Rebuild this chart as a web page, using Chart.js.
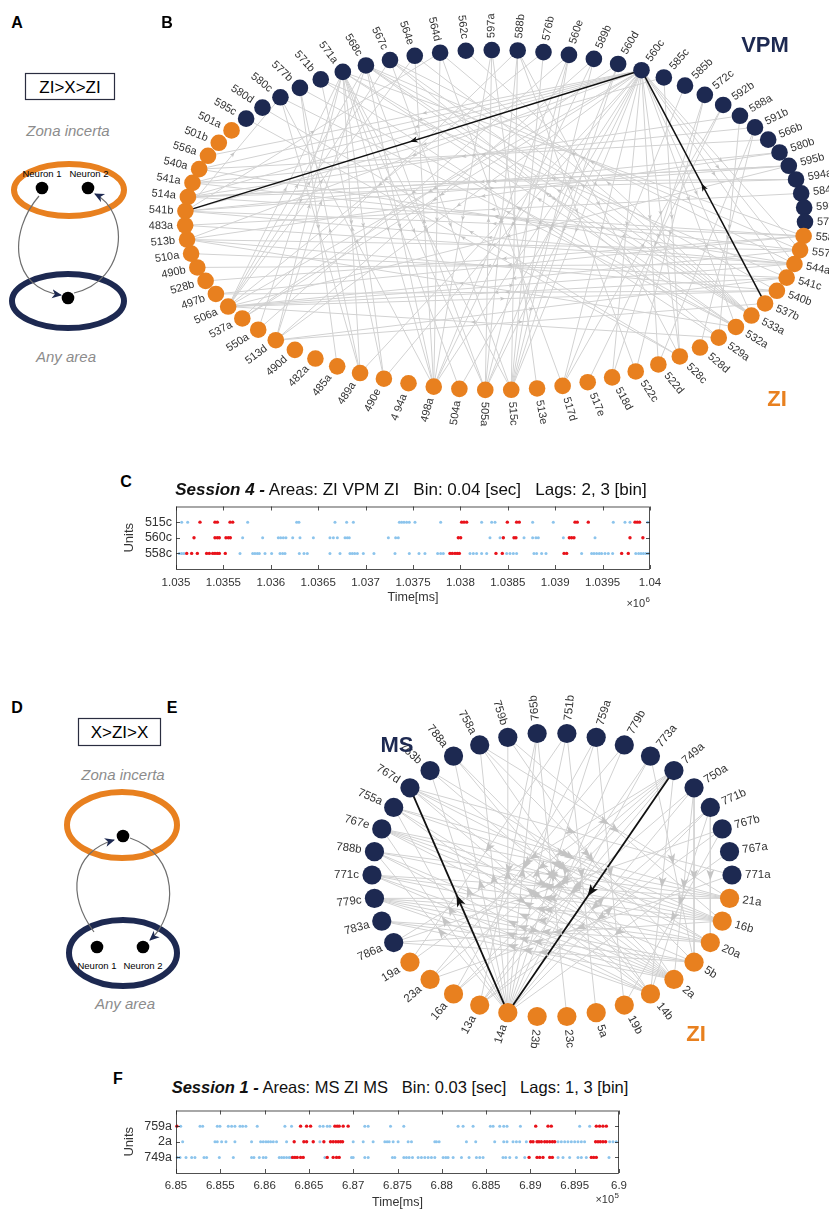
<!DOCTYPE html>
<html lang="en">
<head>
<meta charset="utf-8">
<title>ZI triplet motifs</title>
<script src="https://cdn.jsdelivr.net/npm/chart.js@4.4.1/dist/chart.umd.min.js"></script>
<style>
  html, body { margin: 0; padding: 0; background: #fff; }
  body { position: relative; width: 829px; height: 1212px; overflow: hidden;
         font-family: 'Liberation Sans', Arial, sans-serif; color: #000; }
  canvas, svg, .lbl { position: absolute; }
  .lbl { transform: translate(-50%, -50%); white-space: nowrap; line-height: 1; }
  .panel { font-size: 16px; font-weight: bold; }
  .area { font-size: 22px; font-weight: bold; }
  .title { font-size: 17px; color: #111; white-space: pre; }
</style>
</head>
<body>

<!-- A: ZI > X > ZI schematic -->
<svg width="140" height="380" style="left:0;top:0" font-family="'Liberation Sans', Arial, sans-serif">
  <defs>
    <marker id="headA" markerWidth="12" markerHeight="12" refX="9" refY="5" orient="auto" markerUnits="userSpaceOnUse">
      <path d="M0,0.5 L10,5 L0,9.5 L2.8,5 Z" fill="#1d2951"/>
    </marker>
  </defs>
  <rect x="25.5" y="73.5" width="89" height="26" fill="none" stroke="#2a2d40" stroke-width="1.2"/>
  <text x="70" y="93" font-size="17" text-anchor="middle">ZI&gt;X&gt;ZI</text>
  <text x="68" y="136" font-size="15" font-style="italic" fill="#8c8c8c" text-anchor="middle">Zona incerta</text>
  <ellipse cx="69" cy="190" rx="55" ry="26" fill="none" stroke="#e8801f" stroke-width="6"/>
  <text x="42" y="177" font-size="9.5" text-anchor="middle">Neuron 1</text>
  <text x="89" y="177" font-size="9.5" text-anchor="middle">Neuron 2</text>
  <circle cx="42" cy="188" r="6.3"/>
  <circle cx="88" cy="188" r="6.3"/>
  <ellipse cx="68" cy="301" rx="56" ry="27" fill="none" stroke="#1d2951" stroke-width="6"/>
  <circle cx="68" cy="298" r="6.3"/>
  <path d="M39,196 C8,232 10,288 61,295" fill="none" stroke="#6e6e6e" stroke-width="1.2" marker-end="url(#headA)"/>
  <path d="M74,293 C128,280 130,212 95,194" fill="none" stroke="#6e6e6e" stroke-width="1.2" marker-end="url(#headA)"/>
  <text x="66" y="362" font-size="15" font-style="italic" fill="#8c8c8c" text-anchor="middle">Any area</text>
</svg>

<!-- D: X > ZI > X schematic -->
<svg width="200" height="330" style="left:0;top:690px" font-family="'Liberation Sans', Arial, sans-serif">
  <defs>
    <marker id="headD" markerWidth="12" markerHeight="12" refX="9" refY="5" orient="auto" markerUnits="userSpaceOnUse">
      <path d="M0,0.5 L10,5 L0,9.5 L2.8,5 Z" fill="#1d2951"/>
    </marker>
  </defs>
  <g transform="translate(0,-690)">
    <rect x="78.5" y="718.5" width="82" height="27" fill="none" stroke="#2a2d40" stroke-width="1.2"/>
    <text x="119.5" y="738" font-size="17" text-anchor="middle">X&gt;ZI&gt;X</text>
    <text x="123" y="780" font-size="15" font-style="italic" fill="#8c8c8c" text-anchor="middle">Zona incerta</text>
    <ellipse cx="122" cy="825" rx="55" ry="33" fill="none" stroke="#e8801f" stroke-width="6"/>
    <circle cx="123" cy="836" r="6.3"/>
    <ellipse cx="123" cy="953" rx="54" ry="33" fill="none" stroke="#1d2951" stroke-width="6"/>
    <circle cx="97" cy="947" r="6.3"/>
    <circle cx="143" cy="947" r="6.3"/>
    <text x="97" y="969" font-size="9.5" text-anchor="middle">Neuron 1</text>
    <text x="143" y="969" font-size="9.5" text-anchor="middle">Neuron 2</text>
    <path d="M94,932 C66,895 72,852 114,840" fill="none" stroke="#6e6e6e" stroke-width="1.2" marker-end="url(#headD)"/>
    <path d="M130,838 C180,855 178,915 150,940" fill="none" stroke="#6e6e6e" stroke-width="1.2" marker-end="url(#headD)"/>
    <text x="125" y="1009" font-size="15" font-style="italic" fill="#8c8c8c" text-anchor="middle">Any area</text>
  </g>
</svg>

<canvas id="graphB" width="689" height="470" style="left:140px;top:0"></canvas>
<canvas id="graphE" width="529" height="380" style="left:300px;top:690px"></canvas>
<canvas id="rasterC" width="574" height="122" style="left:96px;top:495px"></canvas>
<canvas id="rasterF" width="574" height="113" style="left:96px;top:1099px"></canvas>

<div class="lbl panel" style="left:17px;top:23px">A</div>
<div class="lbl panel" style="left:167px;top:23px">B</div>
<div class="lbl panel" style="left:126px;top:482px">C</div>
<div class="lbl panel" style="left:17px;top:708px">D</div>
<div class="lbl panel" style="left:172px;top:708px">E</div>
<div class="lbl panel" style="left:118px;top:1079px">F</div>

<div class="lbl area" style="left:765px;top:45px;color:#1d2951">VPM</div>
<div class="lbl area" style="left:777px;top:399px;color:#e8801f">ZI</div>
<div class="lbl area" style="left:397px;top:745px;color:#1d2951">MS</div>
<div class="lbl area" style="left:696px;top:1034px;color:#e8801f">ZI</div>

<div class="lbl title" style="left:411px;top:489px"><b><i>Session 4 -</i></b> Areas: ZI VPM ZI   Bin: 0.04 [sec]   Lags: 2, 3 [bin]</div>
<div class="lbl title" style="left:400px;top:1087px;font-size:16.5px"><b><i>Session 1 -</i></b> Areas: MS ZI MS   Bin: 0.03 [sec]   Lags: 1, 3 [bin]</div>

<script>
// ---------- colours ----------
const NAVY = '#1d2951';
const ORANGE = '#e8801f';
const EDGE_GRAY = '#d2d2d2';
const HEAD_GRAY = '#c4c4c4';
const SPIKE_BLUE = '#8cc4ec';
const SPIKE_RED = '#e8121a';

// ---------- B: session 4 units, in ring order (clockwise from 541b) ----------
const ringB = ['541b','514a','541a','540a','556a','501b','501a','595c','580d','580c','577b','571b',
  '571a','568c','567c','564e','564d','562c','597a','588b','576b','560e','589b','560d','560c','585c',
  '585b','572c','592b','588a','591b','566b','580b','595b','594a','584b','598a','575a','558c','557a',
  '544a','541c','540b','537b','533a','532a','529a','528d','528c','522d','522c','518d','517e','517d',
  '513e','515c','505a','504a','498a','4 94a','490e','489a','485a','482a','490d','513d','550a','537a',
  '506a','497b','528b','490b','510a','513b','483a'];
const vpmB = ['595c','580d','580c','577b','571b','571a','568c','567c','564e','564d','562c','597a',
  '588b','576b','560e','589b','560d','560c','585c','585b','572c','592b','588a','591b','566b','580b',
  '595b','594a','584b','598a','575a'];
// significant links (source -> target)
const edgesB = [
  ['560c','514a'],['560c','541a'],['560c','540a'],['560c','556a'],['560c','513b'],['560c','506a'],
  ['560c','537a'],['560c','513d'],['560c','489a'],['560c','498a'],['560c','505a'],['560c','515c'],
  ['560c','504a'],['560c','490e'],['560c','533a'],['560c','532a'],['560c','544a'],['560c','557a'],
  ['560c','541c'],['560c','528c'],['560c','522d'],['560c','517d'],['560c','518d'],
  ['571a','498a'],['571a','505a'],['571a','515c'],['571a','504a'],['571a','550a'],['571a','490e'],
  ['571a','489a'],['568c','498a'],['568c','505a'],['568c','532a'],['568c','540b'],
  ['567c','515c'],['567c','529a'],['564d','498a'],['564d','517d'],['564d','533a'],
  ['580c','489a'],['580c','498a'],['577b','485a'],
  ['588b','505a'],['588b','515c'],['588b','522c'],['588b','528c'],['588b','537a'],
  ['597a','498a'],['597a','513e'],['576b','515c'],['576b','506a'],['560e','505a'],['560e','550a'],
  ['589b','513d'],['560d','537a'],['560d','515c'],['585c','528c'],['585c','541b'],
  ['572c','518d'],['572c','522c'],['592b','517e'],['588a','529a'],['588a','514a'],
  ['591b','528d'],['591b','541a'],['566b','540a'],['580b','513b'],['580b','541b'],
  ['595b','514a'],['595b','506a'],['594a','541a'],['584b','483a'],
  ['558c','541b'],['558c','514a'],['558c','497b'],['558c','528b'],['558c','571a'],
  ['557a','541a'],['557a','506a'],['557a','513b'],['557a','568c'],
  ['544a','540a'],['544a','541b'],['544a','490b'],['544a','567c'],
  ['541c','510a'],['541c','506a'],['541c','571b'],['540b','513b'],['540b','497b'],
  ['533a','571a'],['533a','568c'],['533a','567c'],['533a','564e'],['533a','562c'],
  ['532a','571a'],['532a','577b'],['532a','580c'],['532a','513b'],
  ['529a','571b'],['529a','506a'],['528c','580d'],['528c','595c'],
  ['506a','571a'],['506a','568c'],['506a','567c'],['506a','564e'],['506a','540b'],['506a','544a'],
  ['513d','568c'],['513d','571a'],['513d','541c'],['513d','537b'],
  ['541b','564d'],['541b','580c'],['541b','595b'],['514a','595b'],['514a','594a'],
  ['483a','544a'],['498a','564e'],['498a','560e'],['498a','589b'],['505a','560d'],['505a','597a'],
  ['515c','589b'],['515c','560e'],['489a','577b'],['490e','571b'],['517d','585b'],['517d','592b'],
  ['522d','591b']
];
const pathB = [['537b','560c'], ['560c','541b']];

// ---------- E: session 1 units, in ring order (clockwise from 771a) ----------
const ringE = ['771a','21a','16b','20a','5b','2a','14b','19b','5a','23c','23b','14a','13a','16a',
  '23a','19a','786a','783a','779c','771c','788b','767e','755a','767d','763b','788a','758a','759b',
  '765b','751b','759a','779b','773a','749a','750a','771b','767b','767a'];
const msE = ['771a','786a','783a','779c','771c','788b','767e','755a','767d','763b','788a','758a',
  '759b','765b','751b','759a','779b','773a','749a','750a','771b','767b','767a'];
const edgesE = [
  ['14a','763b'],['14a','788a'],['14a','758a'],['14a','759b'],['14a','765b'],['14a','751b'],
  ['14a','759a'],['14a','779b'],['14a','773a'],['14a','750a'],['14a','755a'],['14a','767e'],
  ['14a','788b'],['14a','771b'],
  ['2a','788b'],['2a','771c'],['2a','779c'],['2a','767e'],['2a','755a'],['2a','783a'],['2a','763b'],
  ['14b','771c'],['14b','779c'],['14b','788b'],['14b','767d'],['14b','758a'],
  ['16b','779c'],['16b','771c'],['16b','788b'],['16b','767e'],['16b','755a'],['16b','786a'],
  ['20a','783a'],['20a','779c'],['20a','771c'],['21a','779c'],['21a','767e'],['21a','788b'],
  ['5b','786a'],['5b','783a'],
  ['767d','2a'],['767d','16b'],['767d','771a'],['767d','20a'],['755a','21a'],['755a','14b'],
  ['767e','20a'],['767e','5b'],['771c','21a'],['779c','5b'],
  ['749a','13a'],['749a','16a'],['749a','23a'],['749a','19a'],['749a','786a'],['749a','14b'],
  ['750a','2a'],['750a','5b'],['750a','16a'],['771b','14b'],['771b','20a'],['771b','13a'],
  ['773a','5b'],['773a','13a'],['779b','23a'],['759a','16a'],['759a','19b'],['751b','19a'],
  ['751b','5a'],['765b','13a'],['765b','23c'],['759b','2a'],['759b','16b'],['758a','5b'],
  ['758a','21a'],['788a','2a'],['788a','14b'],['763b','20a'],['767b','13a'],['767b','19b'],
  ['767a','14a'],['771a','23a'],['767b','786a']
];
const pathE = [['749a','14a'], ['14a','767d']];

// ---------- C: session 4 spike times [ms] ----------
const unitsC = ['515c', '560c', '558c'];
const c515cOther = [1035060, 1035123, 1035756, 1036273, 1036297, 1036677, 1036800, 1036871, 1037356,
  1037380, 1037405, 1037433, 1037461, 1037521, 1037792, 1038224, 1038330, 1038365, 1038762, 1038980,
  1039613, 1039736, 1039789, 1039975];
const c515cPattern = [1035253, 1035411, 1035436, 1035570, 1035598, 1038013, 1038038, 1038066, 1038495,
  1038593, 1038621, 1039209, 1039233, 1039349, 1039842, 1039866, 1039890];
const c560cOther = [1035703, 1035914, 1036079, 1036104, 1036132, 1036160, 1036231, 1036308, 1036449,
  1036624, 1036660, 1036702, 1036783, 1036807, 1036828, 1037240, 1037317, 1037345, 1038312, 1038418,
  1038671, 1038762, 1038797, 1038822, 1039086, 1039420];
const c560cPattern = [1035190, 1035411, 1035436, 1035457, 1035527, 1035552, 1035573, 1037978, 1038003,
  1038453, 1038565, 1038586, 1039149, 1039173, 1039198, 1039789, 1039925];
const c558cOther = [1035035, 1035060, 1035084, 1035675, 1035809, 1035833, 1035858, 1035879, 1035939,
  1036009, 1036097, 1036125, 1036150, 1036301, 1036350, 1036385, 1036624, 1036730, 1036835, 1036860,
  1036885, 1036913, 1036976, 1037088, 1037310, 1037461, 1037563, 1037626, 1037760, 1037792, 1037820,
  1038101, 1038136, 1038171, 1038224, 1038277, 1038488, 1038523, 1038558, 1038593, 1038776, 1038804,
  1038857, 1038903, 1039279, 1039384, 1039409, 1039437, 1039465, 1039490, 1039525, 1039560, 1039606,
  1039850, 1039880, 1039905, 1039930, 1039955, 1039980];
const c558cPattern = [1035113, 1035165, 1035225, 1035323, 1035352, 1035387, 1035411, 1035436, 1035457,
  1035520, 1037890, 1037915, 1037943, 1037967, 1037989, 1038375, 1038442, 1039093, 1039121, 1039701,
  1039771];

// ---------- F: session 1 spike times [ms] ----------
const unitsF = ['759a', '2a', '749a'];
const f759aOther = [685053, 685271, 685301, 685466, 685496, 685590, 685628, 685665, 685722, 685752,
  685789, 685917, 686229, 686304, 686624, 686661, 686707, 686737, 687131, 687169, 687421, 687571,
  688184, 688240, 688353, 688548, 688579, 688654, 688699, 688736, 688887, 689556, 689669];
const f759aPattern = [685010, 686406, 686474, 686519, 686793, 686819, 686842, 686887, 686943, 689060,
  689199, 689236, 689744, 689781, 689819, 689857];
const f2aOther = [685075, 685440, 685466, 685515, 685564, 685665, 685853, 685955, 685985, 686015,
  686041, 686068, 686098, 686135, 686248, 686624, 687000, 687113, 687225, 687357, 687383, 687406,
  687451, 687507, 687620, 687658, 687921, 687940, 687970, 688278, 688383, 688597, 688699, 688736,
  688804, 688842, 688879, 688954, 689312, 689349, 689387, 689424, 689462, 689500, 689537, 689575,
  689612, 689894, 689932, 689969];
const f2aPattern = [686334, 686443, 686474, 686549, 686669, 686744, 686774, 686804, 686831, 686857,
  686880, 689003, 689030, 689075, 689097, 689124, 689161, 689188, 689218, 689248, 689274, 689736,
  689763, 689789, 689819, 689849];
const f749aOther = [685015, 685045, 685113, 685177, 685214, 685316, 685346, 685489, 685647, 685853,
  685880, 685940, 685985, 686015, 686165, 686192, 686218, 686248, 686278, 686301, 686680, 686981,
  687000, 687131, 687169, 687443, 687470, 687571, 687601, 687631, 687669, 687733, 687770, 687808,
  687846, 687883, 687921, 688015, 688045, 688071, 688128, 688222, 688308, 688391, 688428, 688466,
  688691, 688721, 688767, 688842, 688936, 689312, 689368, 689443, 689537, 689575, 689631, 689887];
const f749aPattern = [686316, 686342, 686368, 686406, 686436, 686707, 686774, 686812, 686842, 688985,
  689075, 689105, 689142, 689218, 689248, 689687, 689714, 689744];

Chart.defaults.font.family = "'Liberation Sans', Arial, sans-serif";
Chart.defaults.animation = false;

// --- circular graph ---

function drawHead(ctx, a, b, color, len, wid) {
  const ang = Math.atan2(b.y - a.y, b.x - a.x);
  ctx.save();
  ctx.translate((a.x + b.x) / 2, (a.y + b.y) / 2);
  ctx.rotate(ang);
  ctx.beginPath();
  ctx.moveTo(len / 2, 0);
  ctx.lineTo(-len / 2, -wid / 2);
  ctx.lineTo(-len / 4, 0);
  ctx.lineTo(-len / 2, wid / 2);
  ctx.closePath();
  ctx.fillStyle = color;
  ctx.fill();
  ctx.restore();
}

function ringGraph(id, ring, group, edges, path, look) {
  const n = ring.length;
  const node = {};
  ring.forEach((name, i) => {
    const t = (look.start + i * 360 / n) * Math.PI / 180;
    node[name] = { x: Math.cos(t), y: Math.sin(t), t };
  });

  const link = (pair, color, width, order) => ({
    data: [node[pair[0]], node[pair[1]]],
    showLine: true, borderColor: color, borderWidth: width,
    pointRadius: 0, order, clip: false
  });

  // arrowheads half-way along each link, then the unit names set radially
  const decor = {
    id: 'ringDecor',
    afterDatasetsDraw(chart) {
      const { ctx } = chart;
      const sx = chart.scales.x, sy = chart.scales.y;
      const px = nm => ({ x: sx.getPixelForValue(node[nm].x), y: sy.getPixelForValue(node[nm].y) });
      edges.forEach(([s, d]) => drawHead(ctx, px(s), px(d), HEAD_GRAY, look.head, look.headW));
      path.forEach(([s, d]) => drawHead(ctx, px(s), px(d), '#111', look.pathHead, look.pathHeadW));

      ctx.save();
      ctx.font = look.font;
      ctx.fillStyle = '#333';
      ctx.textBaseline = 'middle';
      ring.forEach(nm => {
        const p = px(nm), t = node[nm].t;
        const la = Math.atan2(look.k * Math.sin(t), Math.cos(t));
        ctx.save();
        ctx.translate(p.x, p.y);
        if (Math.cos(t) > look.flip) {
          ctx.rotate(la);
          ctx.textAlign = 'left';
          ctx.fillText(nm, look.gap, 0);
        } else {
          ctx.rotate(la + Math.PI);
          ctx.textAlign = 'right';
          ctx.fillText(nm, -look.gap, 0);
        }
        ctx.restore();
      });
      ctx.restore();
    }
  };

  return new Chart(document.getElementById(id), {
    type: 'scatter',
    data: {
      datasets: [
        { data: ring.map(nm => node[nm]), pointRadius: look.r, pointHoverRadius: look.r,
          backgroundColor: ring.map(nm => group.includes(nm) ? NAVY : ORANGE),
          borderWidth: 0, order: 0, clip: false },
        ...path.map(p => link(p, '#111', look.pathWidth, 1)),
        ...edges.map(p => link(p, EDGE_GRAY, 1, 2))
      ]
    },
    options: {
      responsive: false,
      layout: { padding: look.pad },
      scales: {
        x: { type: 'linear', min: -1, max: 1, display: false },
        y: { type: 'linear', min: -1, max: 1, reverse: true, display: false }
      },
      plugins: { legend: { display: false }, tooltip: { enabled: false } }
    },
    plugins: [decor]
  });
}

ringGraph('graphB', ringB, vpmB, edgesB, pathB, {
  start: 183, r: 8.3, gap: 12, k: 0.75, flip: -0.05,
  font: '11px "Liberation Sans", Arial, sans-serif',
  head: 5, headW: 4, pathHead: 8, pathHeadW: 6, pathWidth: 1.5,
  pad: { left: 45, right: 24, top: 50, bottom: 80 }
});

ringGraph('graphE', ringE, msE, edgesE, pathE, {
  start: 0, r: 9.6, gap: 13, k: 0.8, flip: -0.2,
  font: '11.5px "Liberation Sans", Arial, sans-serif',
  head: 11, headW: 8, pathHead: 12, pathHeadW: 9, pathWidth: 1.8,
  pad: { left: 72, right: 97, top: 43, bottom: 53 }
});

// --- spike rasters ---

// MATLAB-like box with inward ticks and the x10^n multiplier
const boxTicks = {
  id: 'boxTicks',
  afterDraw(chart, args, opts) {
    const { ctx, chartArea: a } = chart;
    const sx = chart.scales.x, sy = chart.scales.y;
    ctx.save();
    ctx.strokeStyle = '#262626';
    ctx.lineWidth = 0.8;
    ctx.strokeRect(a.left + 0.5, a.top + 0.5, a.right - a.left - 1, a.bottom - a.top);
    ctx.beginPath();
    sx.ticks.forEach(t => {
      const p = Math.round(sx.getPixelForValue(t.value)) + 0.5;
      ctx.moveTo(p, a.bottom); ctx.lineTo(p, a.bottom - 4);
      ctx.moveTo(p, a.top); ctx.lineTo(p, a.top + 4);
    });
    sy.ticks.forEach(t => {
      const p = Math.round(sy.getPixelForValue(t.value)) + 0.5;
      ctx.moveTo(a.left, p); ctx.lineTo(a.left + 4, p);
      ctx.moveTo(a.right, p); ctx.lineTo(a.right - 4, p);
    });
    ctx.stroke();

    ctx.fillStyle = '#333';
    ctx.textBaseline = 'alphabetic';
    ctx.textAlign = 'right';
    ctx.font = '8px "Liberation Sans", Arial, sans-serif';
    ctx.fillText(String(opts.exponent), a.right, a.bottom + opts.expoY - 5);
    const w = ctx.measureText(String(opts.exponent)).width;
    ctx.font = '11px "Liberation Sans", Arial, sans-serif';
    ctx.fillText('\u00d710', a.right - w - 0.5, a.bottom + opts.expoY);
    ctx.restore();
  }
};

function rasterChart(id, units, trains, look) {
  const other = [], pattern = [];
  trains.forEach(([rest, hits], u) => {
    rest.forEach(t => other.push({ x: t, y: u + 1 }));
    hits.forEach(t => pattern.push({ x: t, y: u + 1 }));
  });
  const scaleExp = 10 ** look.exponent;
  return new Chart(document.getElementById(id), {
    type: 'scatter',
    data: {
      datasets: [
        { data: pattern, backgroundColor: SPIKE_RED, pointRadius: 1.7, borderWidth: 0, order: 0, clip: false },
        { data: other, backgroundColor: SPIKE_BLUE, pointRadius: 1.5, borderWidth: 0, order: 1, clip: false }
      ]
    },
    options: {
      responsive: false,
      layout: { padding: { left: 20, right: look.right, top: 8, bottom: 0 } },
      scales: {
        x: {
          type: 'linear', min: look.min, max: look.max,
          grid: { display: false, drawTicks: false }, border: { display: false },
          afterBuildTicks: s => {
            const ticks = [];
            for (let v = look.min; v <= look.max; v += look.step) ticks.push({ value: v });
            s.ticks = ticks;
          },
          ticks: {
            padding: look.tickPad, color: '#333', font: { size: 11.5 }, maxRotation: 0, autoSkip: false,
            callback: v => String(parseFloat((v / scaleExp).toFixed(5)))
          },
          title: { display: true, text: 'Time[ms]', color: '#333', font: { size: 12.5 },
                   padding: { top: 0, bottom: look.titlePad } },
          afterFit: s => { s.height = look.xHeight; }
        },
        y: {
          type: 'linear', min: 0, max: 4, reverse: true,
          grid: { display: false, drawTicks: false }, border: { display: false },
          afterBuildTicks: s => { s.ticks = [1, 2, 3].map(v => ({ value: v })); },
          ticks: { padding: 4, color: '#333', font: { size: 12.5 }, callback: v => units[v - 1] },
          title: { display: true, text: 'Units', color: '#333', font: { size: 13 },
                   padding: { top: 6, bottom: 0 } },
          afterFit: s => { s.width = 60; }
        }
      },
      plugins: {
        legend: { display: false }, tooltip: { enabled: false },
        boxTicks: { exponent: look.exponent, expoY: look.expoY }
      }
    },
    plugins: [boxTicks]
  });
}

rasterChart('rasterC', unitsC,
  [[c515cOther, c515cPattern], [c560cOther, c560cPattern], [c558cOther, c558cPattern]],
  { min: 1035000, max: 1040000, step: 500, exponent: 6, right: 20,
    xHeight: 48, tickPad: 7, titlePad: 11.5, expoY: 38 });

rasterChart('rasterF', unitsF,
  [[f759aOther, f759aPattern], [f2aOther, f2aPattern], [f749aOther, f749aPattern]],
  { min: 685000, max: 690000, step: 500, exponent: 5, right: 51,
    xHeight: 39, tickPad: 6, titlePad: 1.5, expoY: 30 });
</script>
</body>
</html>
